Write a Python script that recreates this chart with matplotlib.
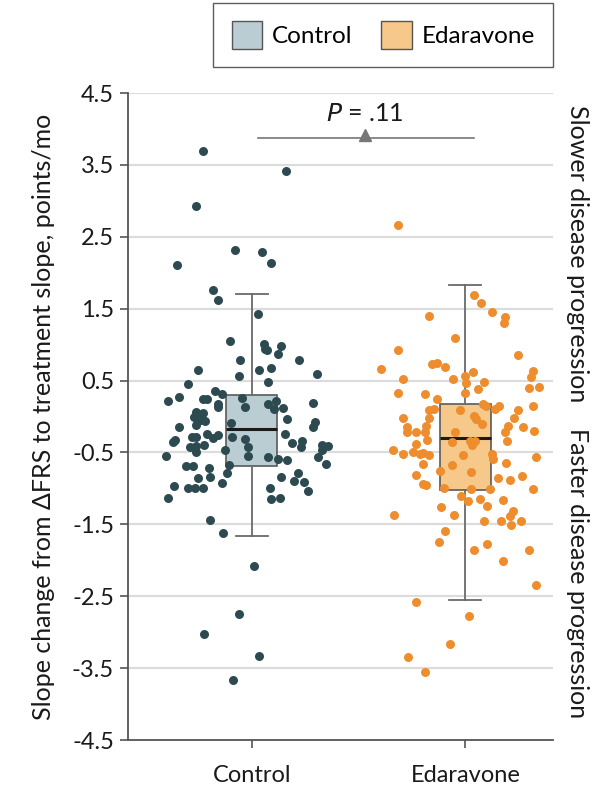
import matplotlib
matplotlib.use("Agg")
import matplotlib.pyplot as plt
from matplotlib.patches import Patch

plt.rcParams['font.family'] = ['Lato', 'DejaVu Sans']

groups = ["Control", "Edaravone"]
dot_colors = ["#2C4A50", "#EE8D2E"]
box_colors = ["#B9CDD2", "#F6C88A"]

# box stats: whislo, q1, med, q3, whishi
control_box = [-1.66, -0.69, -0.18, 0.30, 1.70]
edaravone_box = [-2.55, -1.02, -0.30, 0.18, 1.83]

# jitter offsets (category units) and values of each point
control_dx = [-0.23, 0.16, -0.26, -0.08, 0.05, -0.35, 0.09, -0.18, -0.16, 0.03,
              -0.10, 0.056, 0.061, 0.07, 0.139, 0.122, -0.056, 0.222, -0.254, 0.033,
              0.089, -0.058, 0.074, 0.307, -0.30, -0.17, -0.14, -0.39, -0.34, -0.23,
              -0.21, -0.16, -0.16, -0.044, -0.033, 0.078, 0.113, 0.105, 0.147, 0.286,
              -0.26, -0.23, -0.27, -0.25, -0.22, -0.26, -0.24,
              0.166, -0.34, -0.097, 0.297, 0.286, -0.21, -0.16, -0.18, -0.26, -0.28,
              -0.094, -0.033, 0.155, -0.36, -0.37, 0.233, 0.229, 0.19, -0.29, -0.225,
              -0.26, -0.02, 0.327, 0.358, 0.327, -0.127, -0.26, -0.40, -0.02, 0.078,
              0.122, 0.163, 0.308, 0.347, -0.108, -0.117, -0.31, -0.275, -0.20, -0.25,
              -0.196, 0.136, 0.216, 0.196, 0.244, -0.14, -0.365, 0.264, -0.30, -0.265,
              -0.23, 0.083, -0.39, 0.089, 0.13,
              -0.196, -0.133, 0.011, -0.06, -0.225, 0.036, -0.09]
control_y = [3.70, 3.42, 2.93, 2.31, 2.29, 2.11, 2.14, 1.76, 1.62, 1.43,
             1.05, 1.01, 0.94, 0.92, 0.985, 0.875, 0.78, 0.79, 0.65, 0.65,
             0.68, 0.56, 0.485, 0.59, 0.45, 0.355, 0.31, 0.22, 0.27, 0.25,
             0.24, 0.17, 0.13, 0.26, 0.13, 0.17, 0.22, 0.10, 0.12, 0.19,
             0.06, 0.055, -0.01, -0.01, -0.06, -0.12, -0.05,
             -0.04, -0.14, -0.085, -0.07, -0.15, -0.24, -0.26, -0.30, -0.28, -0.29,
             -0.28, -0.31, -0.25, -0.32, -0.36, -0.34, -0.42, -0.37, -0.42, -0.40,
             -0.41, -0.42, -0.40, -0.41, -0.46, -0.46, -0.50, -0.55, -0.55, -0.57,
             -0.59, -0.61, -0.56, -0.66, -0.67, -0.78, -0.69, -0.69, -0.71, -0.85,
             -0.84, -0.84, -0.79, -0.90, -0.91, -0.92, -0.96, -1.03, -1.00, -1.00,
             -1.00, -1.00, -1.14, -1.15, -1.14,
             -1.44, -1.62, -2.08, -2.75, -3.03, -3.33, -3.67]

edaravone_dx = [-0.315, 0.042, 0.072, 0.127, 0.186, 0.18, -0.172, -0.047, -0.315, 0.246,
                -0.396, -0.156, -0.133, -0.097, -0.29, -0.06, 0.0, 0.005, 0.036, 0.086,
                0.06, 0.315, 0.307, 0.30, 0.347, -0.316, -0.188, 0.0, -0.135,
                -0.169, -0.149, -0.023, 0.081, 0.099, 0.141, 0.158, 0.247, 0.316, -0.29,
                -0.17, 0.042, 0.05, 0.078, 0.23, -0.275, -0.274, -0.23, -0.183, -0.19,
                -0.048, 0.2, 0.188, 0.268, 0.32, -0.178, -0.064, 0.023, 0.047, 0.031,
                0.197, -0.23, -0.34, -0.245, -0.214, -0.196, -0.168, -0.29, -0.011, 0.127,
                0.13, 0.33, -0.197, -0.062, 0.192, -0.117, 0.027, -0.23, 0.154, 0.211,
                0.266, -0.20, -0.185, -0.10, 0.028, 0.117, 0.318, -0.019, 0.011, 0.067,
                0.178, -0.113, 0.10, -0.335, -0.052, 0.089, 0.166, 0.211, 0.222, 0.214,
                0.261, -0.095, -0.122, 0.102, 0.041, 0.296, 0.177,
                0.333, -0.23, 0.019, -0.074, -0.27, -0.19]
edaravone_y = [2.67, 1.69, 1.58, 1.46, 1.39, 1.30, 1.40, 1.09, 0.92, 0.86,
               0.66, 0.73, 0.75, 0.69, 0.52, 0.52, 0.56, 0.47, 0.62, 0.48,
               0.38, 0.63, 0.55, 0.40, 0.41, 0.33, 0.32, 0.33, 0.24,
               0.09, 0.10, 0.09, 0.17, 0.15, 0.10, 0.15, 0.09, 0.14, -0.02,
               -0.02, 0.01, -0.04, -0.10, -0.02, -0.14, -0.22, -0.21, -0.13, -0.21,
               -0.21, -0.13, -0.22, -0.15, -0.20, -0.33, -0.36, -0.34, -0.34, -0.40,
               -0.34, -0.38, -0.47, -0.49, -0.52, -0.51, -0.54, -0.52, -0.53, -0.52,
               -0.59, -0.56, -0.66, -0.67, -0.65, -0.76, -0.77, -0.81, -0.86, -0.88,
               -0.83, -0.94, -0.95, -0.99, -1.01, -1.01, -1.01, -1.11, -1.17, -1.15,
               -1.16, -1.26, -1.25, -1.37, -1.37, -1.45, -1.45, -1.38, -1.31, -1.51,
               -1.45, -1.59, -1.74, -1.77, -1.86, -1.86, -2.01,
               -2.35, -2.58, -2.77, -3.16, -3.34, -3.56]

y_ticks = [4.5, 3.5, 2.5, 1.5, 0.5, -0.5, -1.5, -2.5, -3.5, -4.5]
p_label = "$\\it{P}$ = .11"

fig = plt.figure(figsize=(6.15, 7.85), dpi=100)
ax = fig.add_axes([0.208, 0.0573, 0.691, 0.8242])

# grid
for t in y_ticks[:-1]:
    ax.axhline(t, color="#DCDCDC", lw=1.6, zorder=0)

# boxes
stats = []
for name, b in zip(groups, [control_box, edaravone_box]):
    stats.append(dict(label=name, whislo=b[0], q1=b[1], med=b[2], q3=b[3], whishi=b[4]))
bp = ax.bxp(stats, positions=[0, 1], widths=0.24, showfliers=False, patch_artist=True,
            boxprops=dict(edgecolor="#5A5A5A", linewidth=1.2),
            whiskerprops=dict(color="#6A6A6A", linewidth=1.3),
            capprops=dict(color="#6A6A6A", linewidth=1.3),
            medianprops=dict(color="#1A1A1A", linewidth=2.2),
            capwidths=0.15, zorder=2)
for patch, c in zip(bp["boxes"], box_colors):
    patch.set_facecolor(c)

# points
for i, (dx, yy) in enumerate([(control_dx, control_y), (edaravone_dx, edaravone_y)]):
    ax.scatter([i + d for d in dx], yy, s=42, color=dot_colors[i], linewidths=0, zorder=3)

ax.set_xlim(-0.58, 1.41)
ax.set_ylim(-4.5, 4.5)
ax.set_yticks(y_ticks)
ax.set_yticklabels([f"{t:.1f}" for t in y_ticks])
ax.set_xticks([0, 1])
ax.set_xticklabels(groups)
ax.tick_params(labelsize=17, colors="#555555", labelcolor="#1A1A1A", length=6, width=1.2)
ax.tick_params(axis="x", pad=12)
ax.tick_params(axis="y", pad=4)
for s in ["top", "right"]:
    ax.spines[s].set_visible(False)
for s in ["left", "bottom"]:
    ax.spines[s].set_color("#555555")
    ax.spines[s].set_linewidth(1.3)
ax.set_ylabel("Slope change from ΔFRS to treatment slope, points/mo", fontsize=18, labelpad=12,
              color="#1A1A1A")

# P value bracket
ax.plot([0.03, 1.04], [3.87, 3.87], color="#777777", lw=1.2, zorder=3)
ax.plot([0.53], [3.92], marker="^", color="#777777", markersize=8, zorder=3)
ax.text(0.53, 4.22, p_label, ha="center", va="center", fontsize=18, color="#1A1A1A")

# right side notes
fig.text(578 / 615, 1 - 254 / 785, "Slower disease progression", rotation=-90,
         ha="center", va="center", fontsize=18, color="#1A1A1A")
fig.text(578 / 615, 1 - 573 / 785, "Faster disease progression", rotation=-90,
         ha="center", va="center", fontsize=18, color="#1A1A1A")

# legend
handles = [Patch(facecolor=box_colors[0], edgecolor="#555555", label="Control"),
           Patch(facecolor=box_colors[1], edgecolor="#555555", label="Edaravone")]
leg = fig.legend(handles=handles, loc="upper right", bbox_to_anchor=(553 / 615, 1 - 3 / 785),
                 ncol=2, fontsize=17.5, frameon=True, fancybox=False, handlelength=1.25,
                 handleheight=1.35, columnspacing=1.2, borderpad=0.75, handletextpad=0.4,
                 borderaxespad=0)
leg.get_frame().set_edgecolor("#333333")
leg.get_frame().set_linewidth(1.0)

fig.savefig("out.png", dpi=100)
